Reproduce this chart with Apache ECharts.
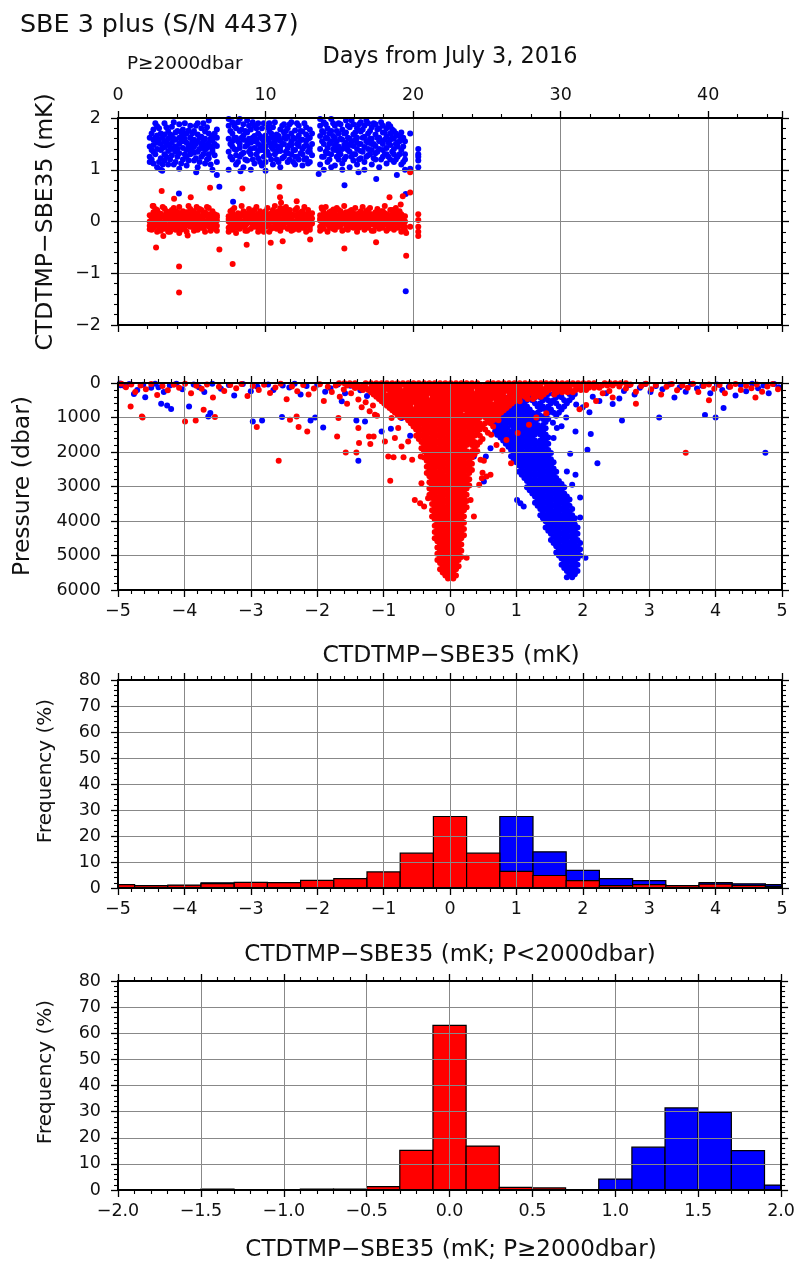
<!DOCTYPE html>
<html><head><meta charset="utf-8">
<script src="https://cdn.jsdelivr.net/npm/echarts/dist/echarts.min.js"></script>
<style>html,body{margin:0;padding:0;background:#fff}#c{width:798px;height:1267px}</style>
</head><body><div id="c"></div>
<script>
// ---------------- DATA ----------------
// Panel 1: CTDTMP-SBE35 (mK) vs days, P>=2000 dbar; each cast: [day, [values]]
const topBlueCasts = [
 [2.15,[1.25,1.45,1.62,1.15]],[2.4,[1.35,1.58,1.78,1.12,1.48]],[2.65,[1.05,1.4,1.66,1.52,1.84]],
 [2.9,[1.22,1.5,1.7,1.38,1.0]],[3.15,[1.3,1.55,1.9,1.44,1.18,1.68]],[3.4,[1.1,1.36,1.6,1.75,1.48]],
 [3.65,[1.28,1.52,1.83,1.4,1.66]],[3.9,[1.15,1.45,1.58,1.72,1.35]],[4.15,[1.02,1.32,1.5,1.88,1.62]],
 [4.4,[1.2,1.42,1.65,1.55,1.78]],[4.65,[1.08,1.38,1.52,1.7,1.26]],[4.9,[1.3,1.48,1.62,1.85,1.4]],
 [5.15,[1.18,1.44,1.58,1.75,1.33]],[5.4,[1.05,1.35,1.55,1.68,1.9]],[5.65,[1.25,1.5,1.64,1.42,1.8]],
 [5.9,[1.12,1.38,1.6,1.74,1.47]],[6.15,[1.3,1.52,1.7,1.95,1.22]],[6.4,[1.0,1.4,1.56,1.66,1.35]],
 [6.7,[1.15,1.46,1.62,1.78,0.9]],
 [7.5,[1.0,1.35,1.6,1.85,1.98]],[7.75,[1.2,1.45,1.7,1.92,1.55]],[8.0,[1.1,1.38,1.62,1.8,1.28]],
 [8.25,[1.25,1.5,1.75,1.98,1.42]],[8.5,[1.05,1.33,1.58,1.88,1.66]],[8.75,[1.18,1.48,1.72,1.55,1.95]],
 [9.0,[1.3,1.52,1.78,1.4,1.0]],[9.25,[1.12,1.42,1.65,1.85,1.55]],[9.5,[1.22,1.5,1.7,1.9,1.36]],
 [9.75,[1.08,1.38,1.6,1.8,1.46]],[10.0,[1.15,1.45,1.66,1.35,0.98]],[10.25,[1.28,1.52,1.75,1.6,1.9]],
 [10.5,[1.1,1.4,1.62,1.82,1.5]],[10.75,[1.2,1.46,1.68,1.35,1.58]],[11.0,[1.05,1.36,1.56,1.78,1.44]],
 [11.25,[1.25,1.5,1.72,1.62,1.88]],[11.5,[1.15,1.42,1.64,1.8,1.32]],[11.75,[1.3,1.55,1.7,1.48,1.92]],
 [12.0,[1.1,1.38,1.6,1.76,1.25]],[12.25,[1.2,1.46,1.66,1.52,1.85]],[12.5,[1.08,1.4,1.58,1.74,1.3]],
 [12.75,[1.22,1.48,1.68,1.56,1.82]],[13.0,[1.15,1.42,1.62,1.35,1.78]],[13.15,[1.28,1.5,1.7]],
 [13.7,[1.1,1.4,1.65,1.85,1.98]],[13.95,[1.25,1.5,1.72,1.92,1.0]],[14.2,[1.15,1.42,1.6,1.8,1.32]],
 [14.45,[1.3,1.55,1.75,1.98,1.05]],[14.7,[1.08,1.38,1.62,1.85,1.48]],[14.95,[1.2,1.45,1.7,1.9,1.35]],
 [15.2,[1.12,1.4,1.58,1.78,1.0]],[15.45,[1.25,1.52,1.72,1.95,1.42]],[15.7,[1.05,1.35,1.6,1.82,1.48]],
 [15.95,[1.18,1.46,1.68,1.88,1.3]],[16.2,[1.1,1.4,1.62,1.8,1.52]],[16.45,[1.22,1.5,1.74,1.92,1.36]],
 [16.7,[1.15,1.44,1.64,1.85,1.0]],[16.95,[1.28,1.52,1.7,1.9,1.4]],[17.2,[1.1,1.38,1.6,1.82,1.5]],
 [17.45,[1.2,1.46,1.68,1.88,1.32]],[17.7,[1.05,1.4,1.62,1.8,1.55]],[17.95,[1.25,1.5,1.72,1.85,1.38]],
 [18.2,[1.12,1.42,1.64,1.8,1.3]],[18.45,[1.2,1.48,1.7,1.58,1.84]],[18.7,[1.15,1.4,1.6,1.75,1.3]],
 [18.95,[1.25,1.45,1.66,1.52]],[19.2,[1.1,1.38,1.58,1.72]],[19.45,[1.0,1.3,1.55,1.2]],
 [19.8,[1.02,1.7]],[20.35,[1.05,1.18,1.3,1.4,1.25]],
 [2.28,[1.38,1.7,1.2]],[2.53,[1.3,1.62,1.9]],[2.78,[1.15,1.58,1.8]],[3.03,[1.42,1.62,1.1]],
 [3.28,[1.25,1.52,1.82]],[3.53,[1.45,1.68,1.2]],[3.78,[1.1,1.6,1.92]],[4.03,[1.4,1.75,1.25]],
 [4.28,[1.12,1.55,1.72]],[4.53,[1.3,1.6,1.9]],[4.78,[1.18,1.45,1.76]],[5.03,[1.35,1.7,1.55]],
 [5.28,[1.22,1.5,1.85]],[5.53,[1.4,1.62,1.15]],[5.78,[1.3,1.55,1.9]],[6.03,[1.2,1.42,1.82]],
 [6.28,[1.45,1.6,1.1]],[6.55,[1.28,1.7,1.5]],
 [7.62,[1.25,1.5,1.75]],[7.88,[1.4,1.62,1.85]],[8.13,[1.15,1.55,1.92]],[8.38,[1.3,1.62,1.78]],
 [8.63,[1.45,1.75,1.2]],[8.88,[1.35,1.6,1.85]],[9.13,[1.2,1.62,1.92]],[9.38,[1.3,1.58,1.8]],
 [9.63,[1.42,1.65,1.15]],[9.88,[1.25,1.55,1.9]],[10.13,[1.35,1.6,1.82]],[10.38,[1.2,1.45,1.7]],
 [10.63,[1.3,1.55,1.92]],[10.88,[1.42,1.65,1.15]],[11.13,[1.22,1.5,1.85]],[11.38,[1.35,1.6,1.75]],
 [11.63,[1.2,1.48,1.88]],[11.88,[1.38,1.62,1.15]],[12.13,[1.25,1.5,1.9]],[12.38,[1.32,1.58,1.75]],
 [12.63,[1.2,1.45,1.9]],[12.88,[1.35,1.6,1.12]],
 [13.83,[1.25,1.55,1.75]],[14.08,[1.35,1.62,1.88]],[14.33,[1.2,1.5,1.7]],[14.58,[1.4,1.65,1.9]],
 [14.83,[1.25,1.55,1.75]],[15.08,[1.3,1.6,1.88]],[15.33,[1.2,1.48,1.7]],[15.58,[1.38,1.62,1.85]],
 [15.83,[1.25,1.55,1.95]],[16.08,[1.3,1.58,1.72]],[16.33,[1.2,1.5,1.88]],[16.58,[1.35,1.62,1.78]],
 [16.83,[1.25,1.55,1.95]],[17.08,[1.3,1.6,1.75]],[17.33,[1.22,1.5,1.9]],[17.58,[1.35,1.62,1.78]],
 [17.83,[1.2,1.55,1.92]],[18.08,[1.3,1.58,1.72]],[18.33,[1.25,1.52,1.88]],[18.58,[1.35,1.62,1.78]],
 [18.83,[1.2,1.5,1.7]],[19.08,[1.3,1.55,1.65]],[19.33,[1.15,1.45,1.62]]
];
const topBlueExtra = [[4.13,0.54],[4.13,-0.16],[6.87,0.67],[7.8,0.38],[15.35,0.7],[17.5,0.82],
 [19.5,0.53],[19.5,-1.35],[3.0,0.98],[5.3,0.95],[8.3,0.97],[13.6,0.92],[16.3,0.95],[18.9,0.9]];
const topRedCasts = [
 [2.15,[0.0,-0.08,0.12,-0.15]],[2.4,[0.05,-0.12,0.18,-0.02,0.3]],[2.65,[-0.05,0.1,-0.2,0.02,0.22]],
 [2.9,[0.08,-0.1,0.15,-0.04,-0.18]],[3.15,[0.0,0.12,-0.14,0.25,-0.06]],[3.4,[0.06,-0.08,0.18,-0.2,0.1]],
 [3.65,[-0.02,0.14,-0.12,0.22,0.04]],[3.9,[0.1,-0.06,0.2,-0.16,0.02]],[4.15,[0.02,-0.1,0.16,0.28,-0.22]],
 [4.4,[-0.04,0.12,-0.14,0.06,0.2]],[4.65,[0.08,-0.08,0.18,-0.2,0.0]],[4.9,[0.0,0.14,-0.1,0.24,-0.04]],
 [5.15,[0.04,-0.12,0.1,0.2,-0.18]],[5.4,[-0.06,0.08,-0.16,0.16,0.02]],[5.65,[0.1,-0.04,0.22,-0.12,0.04]],
 [5.9,[0.0,0.12,-0.08,0.18,-0.2]],[6.15,[0.06,-0.1,0.14,-0.02,0.26]],[6.4,[-0.04,0.1,-0.14,0.04,0.2]],
 [6.7,[0.02,-0.08,0.12,-0.18,0.08]],
 [7.5,[0.0,-0.12,0.1,-0.2,0.05]],[7.75,[0.04,-0.06,0.16,-0.16,0.22]],[8.0,[-0.02,0.1,-0.12,0.02,-0.22]],
 [8.25,[0.06,-0.08,0.14,-0.14,0.0]],[8.5,[0.0,0.12,-0.1,0.2,-0.04]],[8.75,[0.08,-0.04,0.16,-0.18,0.02]],
 [9.0,[-0.02,0.1,-0.14,0.06,0.18]],[9.25,[0.04,-0.1,0.12,-0.06,0.22]],[9.5,[0.0,0.14,-0.12,0.08,-0.2]],
 [9.75,[0.06,-0.06,0.16,-0.16,0.02]],[10.0,[-0.04,0.1,-0.1,0.2,0.0]],[10.25,[0.08,-0.08,0.14,-0.2,0.04]],
 [10.5,[0.0,0.12,-0.12,0.06,0.22]],[10.75,[0.04,-0.04,0.18,-0.14,0.1]],[11.0,[0.02,0.14,-0.08,0.26,-0.18]],
 [11.25,[0.06,-0.1,0.16,-0.02,0.24]],[11.5,[-0.02,0.1,-0.14,0.04,0.2]],[11.75,[0.08,-0.06,0.14,-0.18,0.0]],
 [12.0,[0.0,0.12,-0.1,0.22,-0.04]],[12.25,[0.04,-0.08,0.16,-0.16,0.08]],[12.5,[-0.02,0.1,-0.12,0.02,0.2]],
 [12.75,[0.06,-0.06,0.14,-0.2,0.0]],[13.0,[0.0,0.12,-0.1,0.04,-0.16]],[13.15,[0.06,-0.04,0.16]],
 [13.7,[0.02,-0.1,0.12,-0.18,0.06]],[13.95,[-0.04,0.08,-0.14,0.18,0.0]],[14.2,[0.06,-0.06,0.14,-0.2,0.02]],
 [14.45,[0.0,0.1,-0.12,0.2,-0.04]],[14.7,[0.04,-0.08,0.16,-0.16,0.08]],[14.95,[-0.02,0.12,-0.1,0.22,0.0]],
 [15.2,[0.06,-0.04,0.14,-0.18,0.02]],[15.45,[0.0,0.1,-0.14,0.18,-0.06]],[15.7,[0.04,-0.1,0.12,-0.02,0.2]],
 [15.95,[-0.04,0.08,-0.12,0.16,0.02]],[16.2,[0.02,-0.06,0.14,-0.2,0.06]],[16.45,[0.0,0.12,-0.1,0.2,-0.04]],
 [16.7,[0.06,-0.08,0.16,-0.16,0.0]],[16.95,[-0.02,0.1,-0.12,0.04,0.22]],[17.2,[0.04,-0.06,0.14,-0.18,0.08]],
 [17.45,[0.0,0.12,-0.1,0.18,-0.04]],[17.7,[0.06,-0.08,0.16,-0.14,0.02]],[17.95,[-0.02,0.1,-0.12,0.2,0.04]],
 [18.2,[0.04,-0.06,0.14,-0.18,0.0]],[18.45,[0.0,0.12,-0.1,0.22,-0.06]],[18.7,[0.06,-0.04,0.16,-0.16,0.02]],
 [18.95,[-0.02,0.1,-0.12,0.06,0.18]],[19.2,[0.04,-0.08,0.14,-0.2]],[19.45,[0.0,0.1,-0.1,-0.18]],
 [19.8,[-0.1]],[20.35,[0.14,0.03,-0.1,-0.2,-0.28]],
 [2.28,[-0.04,0.08,-0.16]],[2.53,[0.12,-0.08,0.24]],[2.78,[0.02,-0.14,0.16]],[3.03,[-0.06,0.1,0.28]],
 [3.28,[0.04,-0.12,0.2]],[3.53,[-0.02,0.14,-0.2]],[3.78,[0.06,-0.1,0.26]],[4.03,[-0.06,0.08,0.18]],
 [4.28,[0.1,-0.04,-0.16]],[4.53,[0.02,0.16,-0.1]],[4.78,[-0.04,0.1,0.3]],[5.03,[0.06,-0.08,0.2]],
 [5.28,[-0.02,0.14,-0.14]],[5.53,[0.08,-0.06,0.24]],[5.78,[0.02,-0.12,0.16]],[6.03,[-0.04,0.1,0.28]],
 [6.28,[0.08,-0.06,-0.18]],[6.55,[0.0,0.14,-0.1]],
 [7.62,[0.08,-0.04,0.2]],[7.88,[-0.06,0.1,0.26]],[8.13,[0.04,-0.1,0.16]],[8.38,[-0.02,0.12,0.3]],
 [8.63,[0.06,-0.08,-0.18]],[8.88,[0.0,0.14,0.24]],[9.13,[0.08,-0.06,0.18]],[9.38,[-0.04,0.1,0.28]],
 [9.63,[0.04,-0.12,0.2]],[9.88,[-0.02,0.12,-0.2]],[10.13,[0.06,-0.06,0.26]],[10.38,[0.0,0.16,-0.14]],
 [10.63,[0.08,-0.04,0.3]],[10.88,[-0.06,0.1,0.2]],[11.13,[0.04,-0.1,0.18]],[11.38,[-0.02,0.14,0.28]],
 [11.63,[0.06,-0.08,0.22]],[11.88,[0.0,0.12,-0.16]],[12.13,[0.08,-0.06,0.26]],[12.38,[-0.04,0.1,0.18]],
 [12.63,[0.04,-0.12,0.28]],[12.88,[-0.02,0.14,0.22]],
 [13.83,[0.06,-0.06,0.24]],[14.08,[-0.02,0.12,0.28]],[14.33,[0.08,-0.1,0.18]],[14.58,[0.02,0.16,-0.14]],
 [14.83,[-0.06,0.1,0.26]],[15.08,[0.04,-0.08,0.2]],[15.33,[0.0,0.14,0.3]],[15.58,[0.08,-0.04,-0.16]],
 [15.83,[-0.04,0.1,0.22]],[16.08,[0.06,-0.1,0.26]],[16.33,[0.02,0.16,-0.12]],[16.58,[-0.06,0.08,0.28]],
 [16.83,[0.04,-0.08,0.2]],[17.08,[0.0,0.14,0.26]],[17.33,[0.08,-0.04,-0.18]],[17.58,[-0.04,0.1,0.24]],
 [17.83,[0.06,-0.1,0.2]],[18.08,[0.02,0.16,0.3]],[18.33,[-0.06,0.08,-0.14]],[18.58,[0.04,-0.08,0.22]],
 [18.83,[0.0,0.14,0.26]],[19.08,[0.08,-0.06,0.2]],[19.33,[-0.04,0.1,-0.14]]
];
const topRedExtra = [[4.14,-1.37],[4.14,-0.87],[2.58,-0.5],[7.77,-0.82],[6.87,-0.54],[19.53,-0.66],
 [19.8,0.56],[19.8,0.95],[15.34,-0.52],[17.49,-0.4],[2.96,0.59],[6.24,0.65],[8.43,0.64],[10.94,0.67],
 [10.98,0.47],[4.93,0.47],[12.11,0.39],[18.4,0.47],[3.8,0.44],[2.35,0.3],[5.33,0.28],[13.02,-0.35],
 [11.16,-0.38],[10.35,-0.41],[8.72,-0.45],[4.72,-0.27],[3.07,-0.28],[13.8,0.27],[14.6,0.23],
 [19.16,0.33],[19.3,0.49],[19.53,-0.22],[11.05,0.36]];

// Panel 2: pressure (dbar) vs CTDTMP-SBE35 (mK); dense parts as rows [pressure, [values]], sparse as [value, pressure]
const profBlueRows = [
 [320,[0.92,1.0,1.16,1.24,1.32,1.48,1.56,1.64,1.8,1.88]],
 [410,[0.88,0.96,1.04,1.2,1.28,1.36,1.44,1.6,1.68,1.84]],
 [500,[0.92,1.08,1.16,1.24,1.4,1.48,1.56,1.72,1.8]],
 [590,[0.88,0.96,1.04,1.12,1.28,1.36,1.52,1.6,1.76]],
 [680,[0.84,0.92,1.0,1.08,1.16,1.32,1.4,1.48,1.64,1.72]],
 [770,[0.8,0.88,0.96,1.04,1.12,1.2,1.36,1.44,1.52,1.68]],
 [860,[0.76,0.84,0.92,1.0,1.08,1.16,1.24,1.32,1.48,1.56,1.64]],
 [950,[0.72,0.8,0.88,0.96,1.04,1.12,1.2,1.28,1.36,1.44,1.6]],
 [1040,[0.6,0.68,0.76,0.84,0.92,1.0,1.08,1.16,1.24,1.32,1.4,1.48]],
 [1130,[0.64,0.72,0.8,0.88,0.96,1.04,1.12,1.2,1.28,1.44]],
 [1220,[0.68,0.76,0.84,0.92,1.0,1.08,1.16,1.24,1.32,1.4]],
 [1310,[0.72,0.8,0.96,1.04,1.12,1.2,1.28,1.36,1.44]],
 [1400,[0.68,0.76,0.84,0.92,1.0,1.08,1.16,1.24,1.32,1.4]],
 [1490,[0.72,0.8,0.88,0.96,1.04,1.12,1.2,1.28,1.36,1.44]],
 [1580,[0.76,0.84,0.92,1.0,1.08,1.16,1.24,1.4,1.48]],
 [1670,[0.8,0.88,0.96,1.04,1.12,1.2,1.28,1.36,1.44]],
 [1760,[0.84,0.92,1.0,1.08,1.16,1.24,1.32,1.4,1.48]],
 [1850,[0.88,0.96,1.04,1.12,1.2,1.28,1.36,1.44]],
 [1940,[0.92,1.0,1.08,1.16,1.24,1.32,1.4,1.48]],
 [2030,[0.96,1.04,1.12,1.2,1.28,1.36,1.44,1.52]],
 [2120,[0.92,1.0,1.08,1.16,1.24,1.32,1.4,1.48]],
 [2210,[0.96,1.04,1.12,1.2,1.28,1.36,1.44,1.52]],
 [2300,[1.0,1.08,1.16,1.24,1.32,1.4,1.48,1.56]],
 [2390,[1.04,1.12,1.2,1.28,1.36,1.44,1.52]],
 [2480,[1.08,1.16,1.24,1.32,1.4,1.48,1.56]],
 [2570,[1.04,1.12,1.2,1.28,1.36,1.44,1.52,1.6]],
 [2660,[1.08,1.16,1.24,1.32,1.4,1.48,1.56]],
 [2750,[1.12,1.2,1.28,1.36,1.44,1.52,1.6]],
 [2840,[1.16,1.24,1.32,1.4,1.48,1.56,1.64]],
 [2930,[1.2,1.28,1.36,1.44,1.52,1.6,1.68]],
 [3020,[1.16,1.24,1.32,1.4,1.48,1.56,1.64,1.72]],
 [3110,[1.2,1.28,1.36,1.44,1.52,1.6,1.68]],
 [3200,[1.24,1.32,1.4,1.48,1.56,1.64,1.72]],
 [3290,[1.28,1.36,1.44,1.52,1.6,1.68,1.76]],
 [3380,[1.32,1.4,1.48,1.56,1.64,1.72,1.8]],
 [3470,[1.28,1.36,1.44,1.52,1.6,1.68,1.76]],
 [3560,[1.32,1.4,1.48,1.56,1.64,1.72,1.8]],
 [3650,[1.36,1.44,1.52,1.6,1.68,1.76,1.84]],
 [3740,[1.4,1.48,1.56,1.64,1.72,1.8]],
 [3830,[1.36,1.44,1.52,1.6,1.68,1.76,1.84]],
 [3920,[1.4,1.48,1.56,1.64,1.72,1.8,1.88]],
 [4010,[1.44,1.52,1.6,1.68,1.76,1.84]],
 [4100,[1.48,1.56,1.64,1.72,1.8,1.88]],
 [4190,[1.44,1.52,1.6,1.68,1.76,1.84,1.92]],
 [4280,[1.48,1.56,1.64,1.72,1.8,1.88]],
 [4370,[1.52,1.6,1.68,1.76,1.84,1.92]],
 [4460,[1.56,1.64,1.72,1.8,1.88]],
 [4550,[1.52,1.6,1.68,1.76,1.84,1.92]],
 [4640,[1.56,1.64,1.72,1.8,1.88,1.96]],
 [4730,[1.6,1.68,1.76,1.84,1.92]],
 [4820,[1.64,1.72,1.8,1.88,1.96]],
 [4910,[1.6,1.68,1.76,1.84,1.92]],
 [5000,[1.64,1.72,1.8,1.88,1.96]],
 [5090,[1.68,1.76,1.84,1.92]],
 [5180,[1.72,1.8,1.88]],
 [5270,[1.68,1.76,1.84,1.92]],
 [5360,[1.72,1.8,1.88]],
 [5450,[1.76,1.84,1.92]],
 [5540,[1.8,1.88]],
 [5630,[1.76,1.84]]
];
const profBlueExtra = [[-4.97,15],[-4.9,90],[-4.83,30],[-4.71,200],[-4.62,50],[-4.5,140],[-4.44,25],
 [-4.31,260],[-4.22,70],[-4.12,20],[-4.03,180],[-3.86,40],[-3.78,120],[-3.7,260],[-3.58,20],[-3.45,170],
 [-3.33,60],[-3.25,360],[-3.12,30],[-3.0,240],[-2.9,110],[-2.74,40],[-2.66,200],[-2.52,70],[-2.42,130],
 [-2.34,25],[-2.25,330],[-2.16,90],[-2.0,50],[-1.88,250],[-1.8,150],[-1.69,40],[-1.58,300],[-1.5,80],
 [-1.35,210],[-1.25,380],[-1.12,160],[2.62,230],[2.7,60],[2.78,330],[2.86,140],[2.94,30],[3.02,260],
 [3.1,90],[3.2,180],[3.3,40],[3.38,420],[3.46,120],[3.55,250],[3.63,30],[3.72,160],[3.8,80],[3.92,300],
 [4.02,40],[4.1,200],[4.2,110],[4.3,360],[4.38,60],[4.46,240],[4.55,20],[4.64,150],[4.72,70],[4.8,300],
 [4.88,30],[4.95,120],[2.15,400],[2.25,520],[2.35,300],[2.45,610],[2.55,450],[2.0,700],[2.1,850],
 [-4.96,68],[-4.76,320],[-4.59,416],[-4.39,126],[-4.35,600],[-4.26,649],[-4.2,755],[-3.93,678],
 [-3.64,968],[-3.61,871],[-2.97,1113],[-2.83,1084],[-2.53,987],[-2.1,1084],[-2.03,997],[-1.91,1287],
 [-1.63,532],[-1.41,1084],[-1.38,2255],[-1.28,1113],[-1.03,1403],[-0.89,1326],[-0.73,1016],[-0.6,1529],
 [0.36,2130],[0.54,2130],[0.51,2855],[1.01,3388],[1.11,3580],[1.06,3485],[1.96,3900],[2.04,5062],
 [2.07,1936],[2.22,2323],[2.12,1481],[1.89,1403],[1.81,2052],[1.89,2662],[1.76,2565],[1.84,2952],
 [1.96,3320],[0.86,1307],[0.61,1888],[0.71,1500],[1.61,1307],[1.56,1597],[2.59,1084],[3.15,997],
 [4.0,997],[4.75,2023],[4.12,726],[3.84,929],[1.55,1150],[1.68,1250],[1.75,1000],[1.9,620]];
const profRedRows = [
 [10,[-1.67,-1.59,-1.51,-1.43,-1.27,-1.19,-1.11,-1.03,-0.95,-0.87,-0.79,-0.71,-0.63,-0.55,-0.47,-0.39,-0.31,-0.23,-0.15,-0.07,0.01,0.09,0.17,0.25,0.33,0.41,0.57,0.65,0.73,0.81,0.89,0.97,1.05,1.13,1.21,1.29,1.37,1.45,1.53,1.61,1.69,1.77,1.85,1.93,2.01,2.09,2.17,2.33,2.41,2.49,2.57,2.65]],
 [75,[-1.55,-1.47,-1.39,-1.31,-1.15,-1.07,-0.99,-0.91,-0.83,-0.75,-0.67,-0.59,-0.51,-0.43,-0.35,-0.27,-0.19,-0.11,-0.03,0.05,0.13,0.21,0.29,0.37,0.45,0.53,0.61,0.69,0.77,0.85,0.93,1.01,1.09,1.17,1.25,1.33,1.49,1.57,1.65,1.73,1.81,1.89,1.97,2.05,2.13,2.21,2.29,2.37,2.45]],
 [140,[-1.43,-1.35,-1.27,-1.19,-1.11,-1.03,-0.95,-0.87,-0.79,-0.63,-0.55,-0.47,-0.39,-0.31,-0.23,-0.15,-0.07,0.01,0.09,0.17,0.25,0.33,0.41,0.49,0.57,0.65,0.73,0.81,0.89,0.97,1.05,1.13,1.21,1.29,1.37,1.45,1.53,1.61,1.69,1.77,1.93,2.01,2.09,2.17,2.25]],
 [205,[-1.31,-1.23,-1.15,-1.07,-0.99,-0.91,-0.83,-0.75,-0.67,-0.59,-0.51,-0.43,-0.35,-0.27,-0.19,-0.11,-0.03,0.05,0.13,0.21,0.29,0.45,0.53,0.61,0.69,0.77,0.85,0.93,1.01,1.09,1.17,1.25,1.33,1.41,1.49,1.57,1.65,1.73,1.81,1.89,1.97,2.05]],
 [270,[-1.19,-1.11,-1.03,-0.87,-0.79,-0.71,-0.63,-0.55,-0.47,-0.39,-0.31,-0.23,-0.15,-0.07,0.01,0.09,0.17,0.25,0.33,0.41,0.49,0.57,0.65,0.73,0.81,0.89,0.97,1.05,1.13,1.21,1.29,1.37,1.45,1.61,1.69,1.77,1.85]],
 [335,[-1.15,-1.07,-0.99,-0.91,-0.83,-0.75,-0.67,-0.59,-0.51,-0.43,-0.35,-0.27,-0.19,-0.11,-0.03,0.05,0.13,0.21,0.29,0.37,0.45,0.53,0.61,0.69,0.77,0.93,1.01,1.09,1.17,1.25,1.33,1.41,1.57]],
 [400,[-1.11,-1.03,-0.95,-0.87,-0.79,-0.71,-0.63,-0.55,-0.47,-0.39,-0.23,-0.15,-0.07,0.01,0.09,0.17,0.25,0.33,0.41,0.49,0.57,0.65,0.73,0.81,0.89,0.97,1.05,1.13,1.29,1.37]],
 [465,[-1.07,-0.99,-0.91,-0.83,-0.75,-0.67,-0.59,-0.51,-0.43,-0.35,-0.27,-0.19,-0.11,-0.03,0.05,0.13,0.21,0.29,0.37,0.45,0.53,0.61,0.69,0.77,0.85,0.93,1.01,1.17,1.25]],
 [530,[-1.03,-0.95,-0.87,-0.79,-0.71,-0.63,-0.55,-0.47,-0.39,-0.31,-0.23,-0.15,-0.07,0.01,0.09,0.17,0.25,0.33,0.41,0.49,0.57,0.73,0.81,0.89,0.97,1.05]],
 [595,[-0.99,-0.91,-0.83,-0.75,-0.67,-0.59,-0.51,-0.43,-0.35,-0.27,-0.19,-0.11,-0.03,0.05,0.13,0.21,0.29,0.37,0.45,0.53,0.61,0.69,0.77,0.85,0.93]],
 [660,[-0.95,-0.87,-0.79,-0.71,-0.63,-0.47,-0.39,-0.31,-0.23,-0.15,-0.07,0.01,0.09,0.17,0.25,0.33,0.41,0.49,0.57,0.65,0.73,0.81,0.89]],
 [725,[-0.91,-0.83,-0.75,-0.67,-0.59,-0.51,-0.43,-0.35,-0.27,-0.19,-0.11,-0.03,0.05,0.13,0.21,0.29,0.37,0.45,0.53,0.61,0.69,0.77,0.85]],
 [790,[-0.87,-0.79,-0.71,-0.63,-0.55,-0.47,-0.39,-0.31,-0.23,-0.15,-0.07,0.01,0.09,0.17,0.25,0.33,0.41,0.49,0.57,0.65,0.73,0.81]],
 [855,[-0.83,-0.75,-0.67,-0.59,-0.51,-0.43,-0.35,-0.27,-0.19,-0.11,-0.03,0.05,0.13,0.29,0.37,0.45,0.53,0.61,0.69,0.77]],
 [920,[-0.79,-0.71,-0.63,-0.55,-0.47,-0.39,-0.31,-0.23,-0.15,-0.07,0.01,0.09,0.17,0.25,0.33,0.41,0.49,0.57,0.65,0.73]],
 [990,[-0.75,-0.67,-0.59,-0.51,-0.43,-0.35,-0.27,-0.19,-0.11,-0.03,0.05,0.13,0.21,0.29,0.37,0.45,0.53,0.61,0.69]],
 [1080,[-0.63,-0.55,-0.47,-0.39,-0.31,-0.23,-0.15,-0.07,0.01,0.09,0.17,0.25,0.33,0.41,0.57,0.65,0.73]],
 [1170,[-0.59,-0.51,-0.43,-0.35,-0.27,-0.19,-0.11,-0.03,0.05,0.13,0.21,0.29,0.37,0.45,0.53,0.61]],
 [1260,[-0.55,-0.47,-0.39,-0.31,-0.23,-0.15,-0.07,0.01,0.09,0.17,0.25,0.33,0.41,0.49,0.65]],
 [1350,[-0.51,-0.43,-0.35,-0.27,-0.19,-0.11,-0.03,0.05,0.13,0.21,0.29,0.37,0.45,0.53]],
 [1440,[-0.47,-0.39,-0.31,-0.23,-0.15,-0.07,0.01,0.09,0.17,0.25,0.33,0.41,0.57]],
 [1530,[-0.51,-0.43,-0.35,-0.27,-0.19,-0.11,-0.03,0.05,0.13,0.21,0.29,0.37,0.45]],
 [1620,[-0.47,-0.39,-0.31,-0.23,-0.15,-0.07,0.01,0.09,0.17,0.25,0.33,0.49]],
 [1710,[-0.43,-0.35,-0.27,-0.19,-0.11,-0.03,0.05,0.13,0.21,0.29,0.37,0.45]],
 [1800,[-0.39,-0.31,-0.23,-0.15,-0.07,0.01,0.09,0.17,0.25,0.33,0.41]],
 [1890,[-0.43,-0.35,-0.27,-0.19,-0.11,-0.03,0.05,0.13,0.21,0.37]],
 [1980,[-0.39,-0.31,-0.23,-0.15,-0.07,0.01,0.09,0.17,0.25,0.33,0.41]],
 [2070,[-0.35,-0.27,-0.19,-0.11,-0.03,0.05,0.13,0.21,0.29,0.37]],
 [2160,[-0.39,-0.31,-0.23,-0.15,-0.07,0.01,0.09,0.17,0.25,0.33]],
 [2250,[-0.35,-0.27,-0.19,-0.11,-0.03,0.05,0.13,0.21,0.29]],
 [2340,[-0.31,-0.23,-0.15,-0.07,0.01,0.09,0.17,0.25,0.33]],
 [2430,[-0.35,-0.27,-0.19,-0.11,-0.03,0.05,0.13,0.21,0.29]],
 [2520,[-0.31,-0.23,-0.15,-0.07,0.01,0.09,0.17,0.25,0.33]],
 [2610,[-0.35,-0.27,-0.19,-0.11,-0.03,0.05,0.13,0.21,0.29]],
 [2700,[-0.31,-0.23,-0.15,-0.07,0.01,0.09,0.17,0.25]],
 [2790,[-0.27,-0.19,-0.11,-0.03,0.05,0.13,0.21,0.29]],
 [2880,[-0.31,-0.23,-0.15,-0.07,0.01,0.09,0.17,0.25]],
 [2970,[-0.27,-0.19,-0.11,-0.03,0.05,0.13,0.21,0.29]],
 [3060,[-0.31,-0.23,-0.15,-0.07,0.01,0.09,0.17,0.25]],
 [3150,[-0.27,-0.19,-0.11,-0.03,0.05,0.13,0.21]],
 [3240,[-0.31,-0.23,-0.15,-0.07,0.01,0.09,0.17,0.25]],
 [3330,[-0.27,-0.19,-0.11,-0.03,0.05,0.13,0.21]],
 [3420,[-0.23,-0.15,-0.07,0.01,0.09,0.17,0.25]],
 [3510,[-0.27,-0.19,-0.11,-0.03,0.05,0.13,0.21]],
 [3600,[-0.23,-0.15,-0.07,0.01,0.09,0.17,0.25]],
 [3690,[-0.27,-0.19,-0.11,-0.03,0.05,0.13,0.21]],
 [3780,[-0.23,-0.15,-0.07,0.01,0.09,0.17]],
 [3870,[-0.27,-0.19,-0.11,-0.03,0.05,0.13,0.21]],
 [3960,[-0.23,-0.15,-0.07,0.01,0.09,0.17]],
 [4050,[-0.19,-0.11,-0.03,0.05,0.13,0.21]],
 [4140,[-0.23,-0.15,-0.07,0.01,0.09,0.17]],
 [4230,[-0.19,-0.11,-0.03,0.05,0.13,0.21]],
 [4320,[-0.23,-0.15,-0.07,0.01,0.09,0.17]],
 [4410,[-0.19,-0.11,-0.03,0.05,0.13,0.21]],
 [4500,[-0.23,-0.15,-0.07,0.01,0.09,0.17]],
 [4590,[-0.19,-0.11,-0.03,0.05,0.13]],
 [4680,[-0.15,-0.07,0.01,0.09,0.17]],
 [4770,[-0.19,-0.11,-0.03,0.05,0.13]],
 [4860,[-0.15,-0.07,0.01,0.09,0.17]],
 [4950,[-0.19,-0.11,-0.03,0.05,0.13]],
 [5040,[-0.15,-0.07,0.01,0.09,0.17]],
 [5130,[-0.19,-0.11,-0.03,0.05,0.13]],
 [5220,[-0.15,-0.07,0.01,0.09]],
 [5310,[-0.11,-0.03,0.05,0.13]],
 [5400,[-0.15,-0.07,0.01,0.09]],
 [5490,[-0.11,-0.03,0.05]],
 [5580,[-0.07,0.01,0.09]],
 [5670,[-0.03,0.05]]
];
const profRedExtra = [[-4.95,20],[-4.88,120],[-4.8,40],[-4.74,260],[-4.66,70],[-4.58,180],[-4.5,30],
 [-4.41,350],[-4.33,90],[-4.25,210],[-4.16,50],[-4.08,140],[-3.99,25],[-3.9,300],[-3.82,80],[-3.74,170],
 [-3.66,40],[-3.57,420],[-3.48,110],[-3.4,230],[-3.31,60],[-3.22,150],[-3.14,30],[-3.05,380],[-2.97,90],
 [-2.88,200],[-2.8,50],[-2.71,290],[-2.63,130],[-2.55,20],[-2.46,470],[-2.38,100],[-2.3,240],[-2.21,60],
 [-2.13,330],[-2.05,160],[-1.96,35],[-1.9,520],[-1.84,110],[-1.78,260],[-1.72,70],[-1.66,400],[-1.6,190],
 [-1.55,600],[-1.49,300],[-1.43,140],[-1.38,480],[-1.33,700],[-1.27,560],[-1.21,820],[-1.16,650],[-1.1,950],
 [2.65,160],[2.72,40],[2.8,250],[2.88,90],[2.95,20],[3.03,180],[3.1,60],[3.18,330],[3.26,110],[3.34,30],
 [3.42,210],[3.5,70],[3.58,140],[3.66,20],[3.74,260],[3.82,90],[3.9,40],[3.98,170],[4.06,60],[4.14,300],
 [4.22,110],[4.3,30],[4.38,200],[4.46,80],[4.54,150],[4.62,40],[4.7,250],[4.78,100],[4.86,30],[4.94,180],
 [2.3,300],[2.45,420],[2.2,520],[2.05,640],[1.95,760],[2.4,230],[2.55,100],
 [-4.81,678],[-4.64,968],[-4.63,997],[-3.99,1113],[-3.83,1084],[-3.54,987],[-3.71,774],
 [-2.91,1278],[-2.58,2255],[-2.41,1065],[-2.28,1278],[-2.31,968],[-2.15,1404],[-1.7,1549],[-1.68,1016],
 [-1.57,2013],[-1.41,2013],[-1.37,1742],[-1.38,1307],[-1.22,1549],[-1.15,1549],[-1.2,1771],[-1.13,920],
 [-0.93,2130],[-0.85,2149],[-0.9,2836],[-0.7,2149],[-0.57,2226],[-0.44,2130],[-0.53,3388],[-0.45,3485],
 [-0.39,3580],[-0.33,3340],[-0.43,2904],[-0.98,1694],[-0.83,1597],[-0.73,1839],[-0.63,1694],[-0.78,1307],
 [-0.88,1016],[0.46,2226],[0.51,2250],[0.61,2662],[0.55,2710],[0.48,2759],[0.44,2952],[0.49,2600],
 [0.31,3388],[0.36,3872],[0.25,5062],[0.92,2323],[0.79,1955],[1.02,1452],[1.19,1210],[0.7,1800],
 [0.85,1650],[0.62,1500],[3.55,2023],[1.3,1000],[1.45,880],[2.8,600],[3.9,500],[4.6,420]];

// Panels 3/4: histograms (bin centers, frequency %)
const hist1Centers = [-5,-4.5,-4,-3.5,-3,-2.5,-2,-1.5,-1,-0.5,0,0.5,1,1.5,2,2.5,3,3.5,4,4.5,5];
const hist1Blue = [0.8,0.7,0.9,2.0,1.5,1.2,2.0,2.5,4.0,6.0,8.0,10.0,27.5,13.9,6.8,3.6,2.8,0.8,2.1,1.6,1.3];
const hist1Red  = [1.3,0.9,1.1,1.7,2.2,2.1,2.9,3.6,6.2,13.4,27.5,13.4,6.4,4.8,2.8,0.9,1.3,0.9,1.5,1.0,0.6];
const hist2Centers = [-2,-1.8,-1.6,-1.4,-1.2,-1,-0.8,-0.6,-0.4,-0.2,0,0.2,0.4,0.6,0.8,1,1.2,1.4,1.6,1.8,2];
const hist2Blue = [0,0,0,0,0,0,0,0,0,0,0,0,0,0,0.2,4.2,16.4,31.4,29.7,15.1,1.9];
const hist2Red  = [0,0,0,0.35,0,0,0.3,0.3,1.3,15.2,63.0,16.8,1.0,0.8,0,0,0,0,0,0,0];
const hist1BinWidth = 0.5, hist2BinWidth = 0.2;

// ---------------- BUILD ----------------
const FONT = '"DejaVu Sans", sans-serif';
function castsToPts(c){const o=[];c.forEach(([d,vs])=>vs.forEach(v=>o.push([d,v])));return o;}
function rowsToPts(r){const o=[];r.forEach(([p,xs])=>xs.forEach(x=>o.push([x,p])));return o;}
const minus = s => String(s).replace('-', '\u2212');

const GRIDS = [
 {left:118, top:118, width:664, height:207},
 {left:118, top:383, width:664, height:207},
 {left:118, top:680, width:664, height:208},
 {left:118, top:981, width:664, height:209}
];
const TICKFONT = {fontFamily: FONT, fontSize: 17.5, color: '#111'};
function axis(base, o){
  return Object.assign({
    type:'value', z:10, axisLine:{show:true, onZero:false, lineStyle:{color:'#000', width:2}},
    axisTick:{show:true, inside:false, length:7, lineStyle:{color:'#000', width:1.3}},
    minorTick:{show:true, splitNumber:5, length:4, lineStyle:{color:'#000', width:1.1}},
    splitLine:{show:false, lineStyle:{color:'#888', width:1}},
    axisLabel:Object.assign({show:false}, TICKFONT)
  }, base, o);
}
const xAxes = [], yAxes = [];
function addPanel(gi, xr, yr, xfmt, yfmt, xTop, yInverse){
  xAxes.push(axis({gridIndex:gi, position:'bottom', min:xr[0], max:xr[1], interval:xr[2]},
    {splitLine:{show:true, lineStyle:{color:'#888', width:1}},
     axisLabel:Object.assign({show:!xTop, margin:12, formatter:xfmt}, TICKFONT)}));
  xAxes.push(axis({gridIndex:gi, position:'top', min:xr[0], max:xr[1], interval:xr[2]},
    {axisLabel:Object.assign({show:xTop, margin:14, showMaxLabel:false, formatter:xfmt}, TICKFONT)}));
  yAxes.push(axis({gridIndex:gi, position:'left', min:yr[0], max:yr[1], interval:yr[2], inverse:!!yInverse},
    {splitLine:{show:true, lineStyle:{color:'#888', width:1}},
     axisLabel:Object.assign({show:true, margin:17, formatter:yfmt}, TICKFONT)}));
  yAxes.push(axis({gridIndex:gi, position:'right', min:yr[0], max:yr[1], interval:yr[2], inverse:!!yInverse}, {}));
}
addPanel(0, [0,45,10], [-2,2,1], v=>minus(v), v=>minus(v), true, false);
addPanel(1, [-5,5,1], [0,6000,1000], v=>minus(v), v=>String(v), false, true);
addPanel(2, [-5,5,1], [0,80,10], v=>minus(v), v=>String(v), false, false);
addPanel(3, [-2,2,0.5], [0,80,10], v=>minus(v.toFixed(1)), v=>String(v), false, false);

function histRender(halfW){
  return function(params, api){
    const c = api.value(0), v = api.value(1);
    if (!(v > 0)) return null;
    const p0 = api.coord([c - halfW, v]), p1 = api.coord([c + halfW, 0]);
    const cs = params.coordSys;
    const x0 = Math.max(p0[0], cs.x), x1 = Math.min(p1[0], cs.x + cs.width);
    if (x1 <= x0) return null;
    return {type:'rect', shape:{x:x0, y:p0[1], width:x1-x0, height:p1[1]-p0[1]},
      style:{fill:api.visual('color'), stroke:'#000', lineWidth:1.2}};
  };
}
const zipH = (cs, vs) => cs.map((c,i)=>[c, vs[i]]);
const scat = (xi, data, color) => ({type:'scatter', xAxisIndex:xi, yAxisIndex:xi, data,
  symbol:'circle', symbolSize:6, itemStyle:{color, opacity:1}, silent:true, clip:true});
const hist = (xi, data, color, hw) => ({type:'custom', xAxisIndex:xi, yAxisIndex:xi, data,
  renderItem:histRender(hw), itemStyle:{color}, silent:true, clip:true});

const series = [
  scat(0, castsToPts(topBlueCasts).concat(topBlueExtra), '#0000ff'),
  scat(0, castsToPts(topRedCasts).concat(topRedExtra), '#ff0000'),
  scat(2, rowsToPts(profBlueRows).concat(profBlueExtra), '#0000ff'),
  scat(2, rowsToPts(profRedRows).concat(profRedExtra), '#ff0000'),
  hist(4, zipH(hist1Centers, hist1Blue), '#0000ff', hist1BinWidth/2),
  hist(4, zipH(hist1Centers, hist1Red), '#ff0000', hist1BinWidth/2),
  hist(6, zipH(hist2Centers, hist2Blue), '#0000ff', hist2BinWidth/2),
  hist(6, zipH(hist2Centers, hist2Red), '#ff0000', hist2BinWidth/2)
];

const T = (text, x, y, size) => ({type:'text', x, y, z:20,
  style:{text, fill:'#111', font: size + 'px ' + FONT, textAlign:'center', textVerticalAlign:'middle'}});
const TR = (text, x, y, size) => ({type:'text', x, y, rotation:Math.PI/2, z:20,
  style:{text, fill:'#111', font: size + 'px ' + FONT, textAlign:'center', textVerticalAlign:'middle'}});
const graphic = [
  {type:'text', left:20, top:13, z:20, style:{text:'SBE 3 plus (S/N 4437)', fill:'#111', font:'25.4px ' + FONT}},
  {type:'text', left:127, top:55, z:20, style:{text:'P\u22652000dbar', fill:'#111', font:'18.4px ' + FONT}},
  T('Days from July 3, 2016', 450, 57, 22.4),
  TR('CTDTMP\u2212SBE35 (mK)', 46, 222, 23.5),
  TR('Pressure (dbar)', 23, 486, 23.5),
  T('CTDTMP\u2212SBE35 (mK)', 451, 656, 23.5),
  TR('Frequency (%)', 46, 771, 20),
  T('CTDTMP\u2212SBE35 (mK; P<2000dbar)', 450, 955, 23),
  TR('Frequency (%)', 46, 1072, 20),
  T('CTDTMP\u2212SBE35 (mK; P\u22652000dbar)', 451, 1250, 23)
];

const chart = echarts.init(document.getElementById('c'), null, {renderer:'canvas', width:798, height:1267});
chart.setOption({animation:false, backgroundColor:'#fff', grid:GRIDS, xAxis:xAxes, yAxis:yAxes, series, graphic});
</script></body></html>
